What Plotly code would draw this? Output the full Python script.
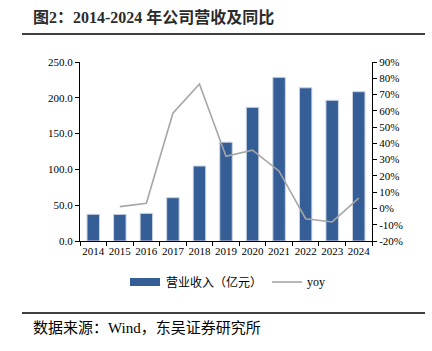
import plotly.graph_objects as go

years = ["2014", "2015", "2016", "2017", "2018", "2019", "2020", "2021", "2022", "2023", "2024"]
revenue = [37.3, 37.2, 38.6, 60.5, 104.7, 138.0, 186.7, 228.6, 214.0, 196.5, 208.5]
yoy_years = years[1:]
yoy = [1.1, 3.2, 58.5, 76.5, 32.0, 35.8, 22.9, -6.3, -8.3, 6.4]

left_ticks = [0, 50, 100, 150, 200, 250]
left_labels = ["0.0", "50.0", "100.0", "150.0", "200.0", "250.0"]
right_ticks = list(range(-20, 91, 10))
right_labels = [f"{v}%" for v in right_ticks]

BAR = "#365E96"
LINE = "#A6A6A6"
FONT = "Liberation Serif, Noto Sans CJK SC, serif"

fig = go.Figure()
fig.add_trace(go.Bar(x=years, y=revenue, marker=dict(color=BAR, line=dict(color="#C9D3E3", width=1)),
                     width=0.47, name="营业收入（亿元）", showlegend=False))
fig.add_trace(go.Scatter(x=yoy_years, y=yoy, yaxis="y2", mode="lines",
                         line=dict(color=LINE, width=1.6), name="yoy", showlegend=False))

W, H = 432, 351
L, R, T, B = 80, 372, 62, 241
def px(x):
    return (x - L) / (R - L)
def py(y):
    return (B - y) / (B - T)

fig.update_layout(
    width=W, height=H,
    margin=dict(l=L, r=W - R, t=T, b=H - B),
    paper_bgcolor="white", plot_bgcolor="white",
    font=dict(family=FONT, size=11, color="#000"),
    xaxis=dict(type="category", showline=True, linecolor="#000", linewidth=1,
               ticks="outside", ticklen=4, tickcolor="#000", tickson="boundaries",
               showgrid=False, tickfont=dict(size=11), tickangle=0),
    yaxis=dict(range=[0, 250], tickvals=left_ticks, ticktext=left_labels,
               showline=True, linecolor="#000", linewidth=1, ticks="outside", ticklen=4,
               tickcolor="#000", showgrid=False, zeroline=False),
    yaxis2=dict(range=[-20, 90], tickvals=right_ticks, ticktext=right_labels,
                overlaying="y", side="right", showline=True, linecolor="#000", linewidth=1,
                ticks="outside", ticklen=4, tickcolor="#000", showgrid=False, zeroline=False),
    shapes=[
        dict(type="line", xref="paper", yref="paper", x0=px(22), x1=px(425), y0=py(34), y1=py(34),
             line=dict(color="#000", width=1.5)),
        dict(type="line", xref="paper", yref="paper", x0=px(22), x1=px(425), y0=py(313), y1=py(313),
             line=dict(color="#000", width=1.5)),
        dict(type="rect", xref="paper", yref="paper", x0=px(130), x1=px(160), y0=py(286), y1=py(278),
             fillcolor=BAR, line=dict(width=0)),
        dict(type="line", xref="paper", yref="paper", x0=px(272), x1=px(302), y0=py(282), y1=py(282),
             line=dict(color=LINE, width=1.6)),
    ],
    annotations=[
        dict(text="<b>图2：2014-2024 年公司营收及同比</b>", xref="paper", yref="paper",
             x=px(31), y=py(17), xanchor="left", yanchor="middle", showarrow=False,
             font=dict(size=16, color="#2b2b2b")),
        dict(text="数据来源：Wind，东吴证券研究所", xref="paper", yref="paper",
             x=px(31), y=py(328), xanchor="left", yanchor="middle", showarrow=False,
             font=dict(size=15, color="#000")),
        dict(text="营业收入（亿元）", xref="paper", yref="paper",
             x=px(164), y=py(282), xanchor="left", yanchor="middle", showarrow=False,
             font=dict(size=12)),
        dict(text="yoy", xref="paper", yref="paper",
             x=px(305), y=py(282), xanchor="left", yanchor="middle", showarrow=False,
             font=dict(size=12)),
    ],
)

fig.write_html("out.html")
